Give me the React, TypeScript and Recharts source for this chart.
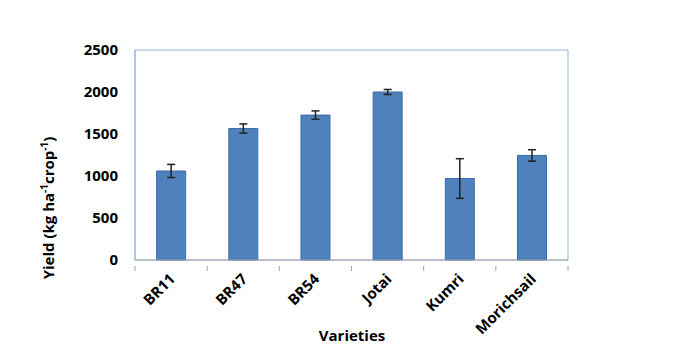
import { BarChart, Bar, XAxis, YAxis, ErrorBar, ReferenceArea } from 'recharts';

const varieties = ['BR11', 'BR47', 'BR54', 'Jotai', 'Kumri', 'Morichsail'];
const yieldValues = [1060, 1565, 1725, 2000, 970, 1245];
const yieldErrors = [78, 55, 50, 30, 236, 68];
const yTicks = [0, 500, 1000, 1500, 2000, 2500];

const data = varieties.map((name, i) => ({ name, value: yieldValues[i], err: yieldErrors[i] }));

const FONT = '"Open Sans", "Liberation Sans", sans-serif';
const BAND = 72.2;

function XTick(props: any) {
  const { x, y, payload, index } = props;
  const isLast = index === varieties.length - 1;
  return (
    <g>
      <line x1={x - BAND / 2} y1={y - 2} x2={x - BAND / 2} y2={y + 3} stroke="#a6a6a6" />
      {isLast && <line x1={x + BAND / 2} y1={y - 2} x2={x + BAND / 2} y2={y + 3} stroke="#a6a6a6" />}
      <text x={x + 5} y={y + 12} textAnchor="end" fontFamily={FONT} fontWeight="bold" fontSize={15}
        fill="#000" transform={`rotate(-45 ${x + 5} ${y + 12})`}>
        {payload.value}
      </text>
    </g>
  );
}

function YTick(props: any) {
  const { y, payload } = props;
  return (
    <text x={118} y={y} dy={5} textAnchor="end" fontFamily={FONT} fontWeight="bold" fontSize={15} fill="#000">
      {payload.value}
    </text>
  );
}

function YLabel() {
  const cx = 54;
  const cy = 208;
  return (
    <text x={cx} y={cy} textAnchor="middle" fontFamily={FONT} fontWeight="bold" fontSize={15} fill="#000"
      transform={`rotate(-90 ${cx} ${cy})`}>
      <tspan>Yield  (kg ha</tspan>
      <tspan fontSize={10} dy={-6}>-1</tspan>
      <tspan dy={6}>crop</tspan>
      <tspan fontSize={10} dy={-6}>-1</tspan>
      <tspan dy={6}>)</tspan>
    </text>
  );
}

function XLabel() {
  return (
    <text x={352} y={341} textAnchor="middle" fontFamily={FONT} fontWeight="bold" fontSize={15} fill="#000">
      Varieties
    </text>
  );
}

export default function App() {
  return (
    <div style={{ position: 'absolute', left: 0, top: 0, width: 675, height: 358, background: '#fff' }}>
      <BarChart width={675} height={358} data={data} barCategoryGap="30%"
        margin={{ top: 50, right: 107, left: 0, bottom: 0 }}>
        <ReferenceArea y1={0} y2={2500} fill="none" stroke="#8eb4e3" strokeWidth={1} ifOverflow="visible" />
        <XAxis dataKey="name" height={98} axisLine={{ stroke: '#a6a6a6' }} tickLine={false}
          tick={<XTick />} interval={0} label={<XLabel />} />
        <YAxis width={135} domain={[0, 2500]} ticks={yTicks} axisLine={{ stroke: '#8eb4e3' }}
          tickLine={false} tick={<YTick />} label={<YLabel />} />
        <Bar dataKey="value" fill="#4f81bd" stroke="#3d6ca8" strokeWidth={1} isAnimationActive={false}>
          <ErrorBar dataKey="err" width={4} stroke="#222" strokeWidth={1.5} direction="y" />
        </Bar>
      </BarChart>
    </div>
  );
}
